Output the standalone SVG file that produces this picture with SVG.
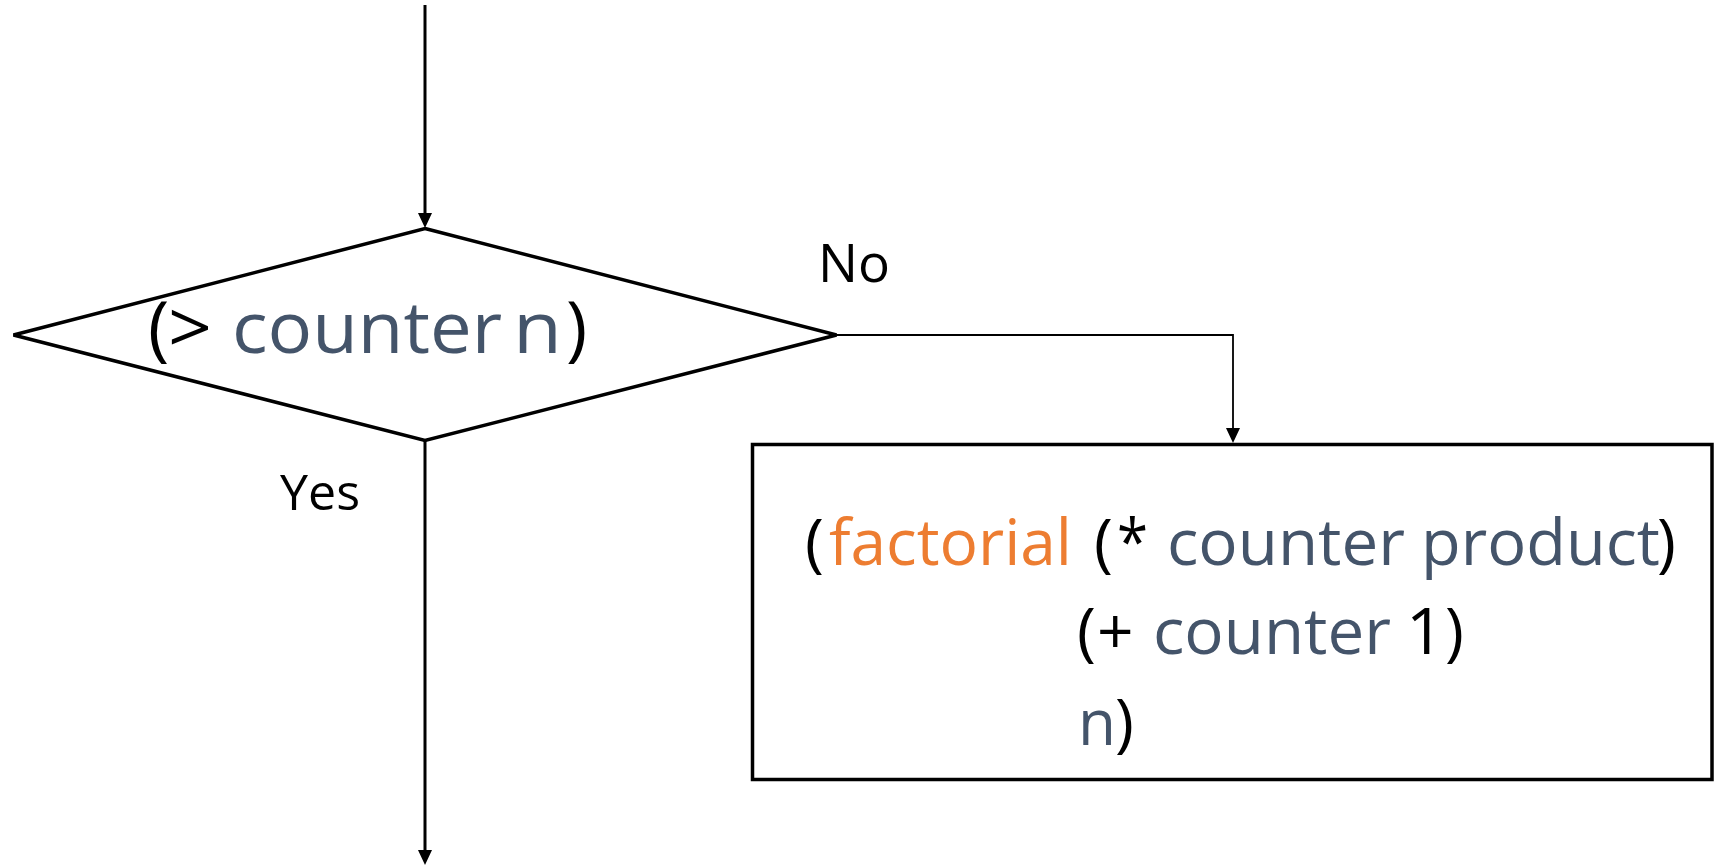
<svg xmlns="http://www.w3.org/2000/svg" width="1717" height="866" viewBox="0 0 1717 866">
<style>
.t{font-family:"Open Sans","Noto Sans",sans-serif;}
.k{fill:#000000;}
.s{fill:#44546A;}
.o{fill:#ED7D31;}
.shape{fill:#ffffff;stroke:#000000;stroke-width:3.5;}
.c{fill:none;stroke:#000000;}
</style>
<defs>
<marker id="arr" markerWidth="16" markerHeight="16" refX="3" refY="7" orient="auto" markerUnits="userSpaceOnUse">
<path d="M0,0 L15,7 L0,14 z" fill="#000000"/>
</marker>
</defs>
<rect width="1717" height="866" fill="#ffffff"/>
<g id="connectors">
<line class="c" x1="425" y1="5" x2="425" y2="216" stroke-width="3" marker-end="url(#arr)"/>
<line class="c" x1="425" y1="440" x2="425" y2="853" stroke-width="3" marker-end="url(#arr)"/>
<polyline class="c" points="836,335 1233,335 1233,431" stroke-width="1.8" marker-end="url(#arr)"/>
<text class="t k" x="818" y="282" font-size="53" textLength="72" lengthAdjust="spacingAndGlyphs">No</text>
<text class="t k" x="280" y="510" font-size="50" textLength="80" lengthAdjust="spacingAndGlyphs">Yes</text>
</g>
<g id="decision">
<polygon class="shape" points="425,228.5 836.5,335 425,440.5 13.5,335"/>
<text class="t" y="353" font-size="72">
<tspan class="k" x="148">(</tspan>
<tspan class="k" x="168" textLength="44" lengthAdjust="spacingAndGlyphs">&gt;</tspan>
<tspan class="s" x="232" textLength="270" lengthAdjust="spacingAndGlyphs">counter</tspan>
<tspan class="s" x="513" textLength="49" lengthAdjust="spacingAndGlyphs">n</tspan>
<tspan class="k" x="566">)</tspan>
</text>
</g>
<g id="process">
<rect class="shape" x="752.5" y="444.5" width="959.5" height="335"/>
<text class="t" y="565" font-size="64">
<tspan class="k" x="805">(</tspan>
<tspan class="o" x="829" textLength="243" lengthAdjust="spacingAndGlyphs">factorial</tspan>
<tspan class="k" x="1094">(</tspan>
<tspan class="k" x="1117" textLength="31" lengthAdjust="spacingAndGlyphs">*</tspan>
<tspan class="s" x="1167" textLength="238" lengthAdjust="spacingAndGlyphs">counter</tspan>
<tspan class="s" x="1421" textLength="239" lengthAdjust="spacingAndGlyphs">product</tspan>
<tspan class="k" x="1657">)</tspan>
</text>
<text class="t" y="654" font-size="64">
<tspan class="k" x="1077">(</tspan>
<tspan class="k" x="1097">+</tspan>
<tspan class="s" x="1153" textLength="238" lengthAdjust="spacingAndGlyphs">counter</tspan>
<tspan class="k" x="1406" textLength="38" lengthAdjust="spacingAndGlyphs">1</tspan>
<tspan class="k" x="1445">)</tspan>
</text>
<text class="t" y="745" font-size="64">
<tspan class="s" x="1078" textLength="38" lengthAdjust="spacingAndGlyphs">n</tspan>
<tspan class="k" x="1115">)</tspan>
</text>
</g>
</svg>
